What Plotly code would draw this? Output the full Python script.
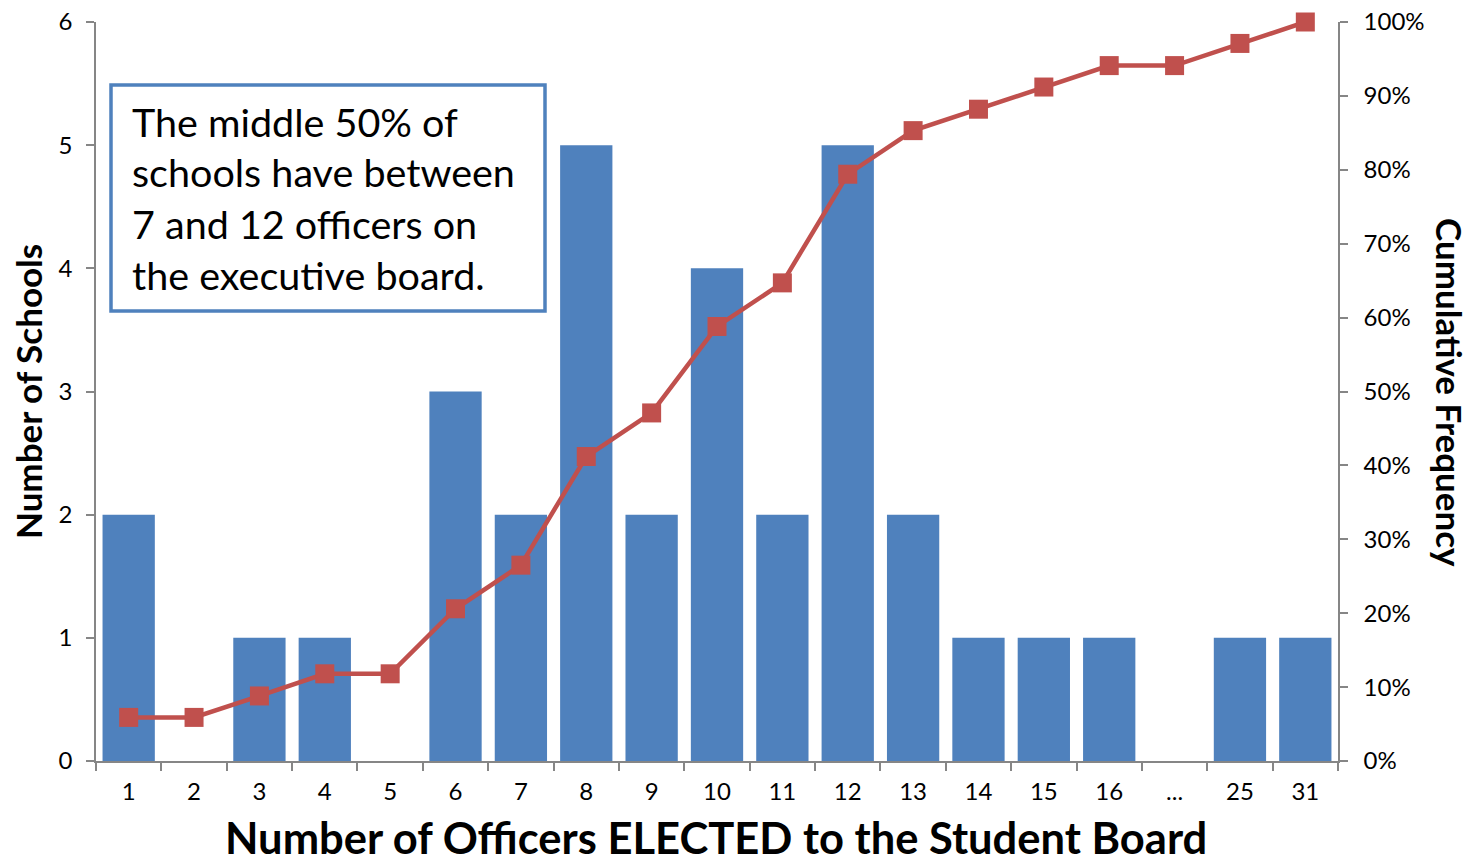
import plotly.graph_objects as go

# Officers elected to the student board (category labels) and school counts
officers = ["1", "2", "3", "4", "5", "6", "7", "8", "9", "10", "11", "12",
            "13", "14", "15", "16", "...", "25", "31"]
schools = [2, 0, 1, 1, 0, 3, 2, 5, 2, 4, 2, 5, 2, 1, 1, 1, 0, 1, 1]
cumulative = [0.059, 0.059, 0.088, 0.118, 0.118, 0.206, 0.265, 0.412, 0.471,
              0.588, 0.647, 0.794, 0.853, 0.882, 0.912, 0.941, 0.941, 0.971, 1.0]

y_ticks = [0, 1, 2, 3, 4, 5, 6]
pct_ticks = [i / 10 for i in range(11)]

note_lines = ["The middle 50% of", "schools have between",
              "7 and 12 officers on", "the executive board."]

FONT = "Lato"
AXIS_GRAY = "#868686"
BAR_BLUE = "#4F81BD"
LINE_RED = "#C0504D"

W, H = 1472, 866
L, R, T, B = 96, 134, 22, 105
pw, ph = W - L - R, H - T - B


def px_x(x):
    return (x - L) / pw


def px_y(y):
    return (H - B - y) / ph


fig = go.Figure()
fig.add_trace(go.Bar(x=officers, y=schools, marker_color=BAR_BLUE,
                     marker_line_width=0, yaxis="y", showlegend=False))
fig.add_trace(go.Scatter(x=officers, y=cumulative, yaxis="y2", mode="lines+markers",
                         line=dict(color=LINE_RED, width=4.5),
                         marker=dict(symbol="square", size=19, color=LINE_RED),
                         cliponaxis=False, showlegend=False))

fig.update_layout(
    width=W, height=H,
    margin=dict(l=L, r=R, t=T, b=B, autoexpand=False),
    paper_bgcolor="white", plot_bgcolor="white",
    bargap=0.2,
    font=dict(family=FONT, color="black"),
    xaxis=dict(type="category", range=[-0.5, len(officers) - 0.5], automargin=False,
               showline=True, linecolor=AXIS_GRAY, linewidth=1.5,
               ticks="outside", tickson="boundaries", ticklen=8,
               tickcolor=AXIS_GRAY, tickwidth=1.5, ticklabelstandoff=8,
               tickfont=dict(size=24), showgrid=False),
    yaxis=dict(range=[0, 6], tickvals=y_ticks, showline=True, linecolor=AXIS_GRAY,
               linewidth=1.5, ticks="outside", ticklen=8, tickcolor=AXIS_GRAY,
               tickwidth=1.5, ticklabelstandoff=9, tickfont=dict(size=24),
               showgrid=False, zeroline=False, automargin=False),
    yaxis2=dict(range=[0, 1], tickvals=pct_ticks, tickformat=".0%", overlaying="y",
                side="right", showline=True, linecolor=AXIS_GRAY, linewidth=1.5,
                ticks="outside", ticklen=8, tickcolor=AXIS_GRAY, tickwidth=1.5,
                ticklabelstandoff=11, tickfont=dict(size=24), showgrid=False,
                zeroline=False, automargin=False),
)

# Axis titles
fig.add_annotation(text="<b>Number of Officers ELECTED to the Student Board</b>",
                   xref="paper", yref="paper", x=px_x(716), y=px_y(865),
                   xanchor="center", yanchor="bottom", showarrow=False,
                   font=dict(size=43.5))
fig.add_annotation(text="<b>Number of Schools</b>", textangle=-90,
                   xref="paper", yref="paper", x=px_x(28), y=px_y(392),
                   xanchor="center", yanchor="middle", showarrow=False,
                   font=dict(size=35))
fig.add_annotation(text="<b>Cumulative Frequency</b>", textangle=90,
                   xref="paper", yref="paper", x=px_x(1450), y=px_y(392),
                   xanchor="center", yanchor="middle", showarrow=False,
                   font=dict(size=35))

# Callout box with the summary note
fig.add_shape(type="rect", xref="paper", yref="paper",
              x0=px_x(111), x1=px_x(545), y0=px_y(311), y1=px_y(85),
              line=dict(color=BAR_BLUE, width=3.5), fillcolor="white", layer="above")
for i, line in enumerate(note_lines):
    fig.add_annotation(text=line, xref="paper", yref="paper",
                       x=px_x(130), y=px_y(121 + 51 * i),
                       xanchor="left", yanchor="middle", showarrow=False,
                       font=dict(size=39.5))

fig.write_html("out.html")
